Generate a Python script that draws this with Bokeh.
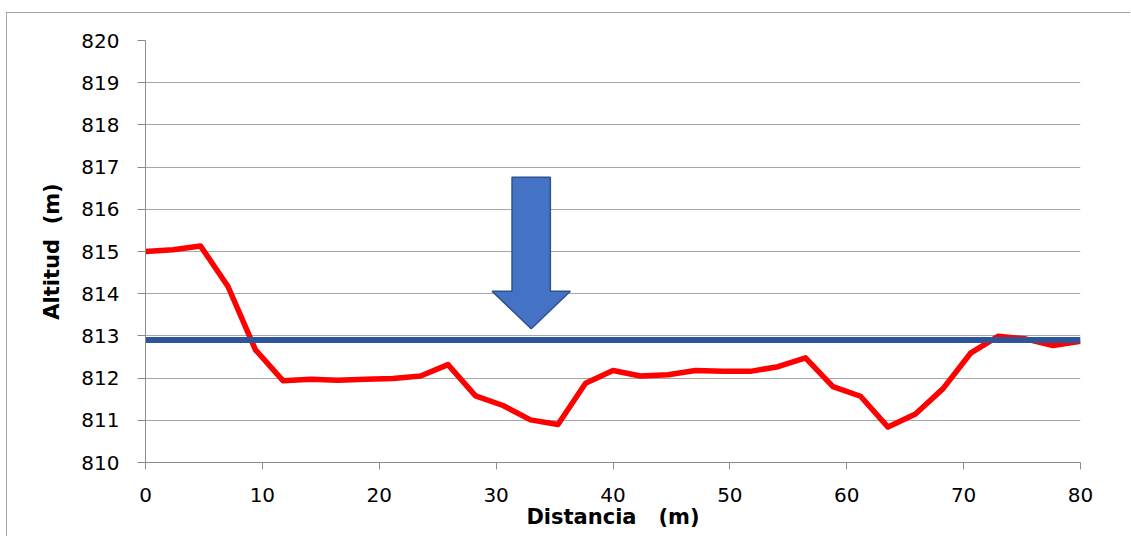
from bokeh.plotting import figure
from bokeh.models import Range1d, FixedTicker
from bokeh.embed import file_html
from bokeh.resources import INLINE

# --- data ---
distancia = [0.0, 2.35, 4.71, 7.06, 9.41, 11.76, 14.12, 16.47, 18.82, 21.18,
             23.53, 25.88, 28.24, 30.59, 32.94, 35.29, 37.65, 40.0, 42.35, 44.71,
             47.06, 49.41, 51.76, 54.12, 56.47, 58.82, 61.18, 63.53, 65.88, 68.24,
             70.59, 72.94, 75.29, 77.65, 80.0]
altitud = [815.00, 815.04, 815.13, 814.17, 812.67, 811.94, 811.97, 811.95, 811.97, 811.99,
           812.05, 812.32, 811.58, 811.35, 811.01, 810.90, 811.88, 812.18, 812.05, 812.08,
           812.18, 812.16, 812.16, 812.27, 812.48, 811.80, 811.57, 810.84, 811.15, 811.75,
           812.59, 812.99, 812.93, 812.77, 812.87]
nivel_x = [0, 80]
nivel_y = [812.9, 812.9]
y_ticks = [810, 811, 812, 813, 814, 815, 816, 817, 818, 819, 820]
x_ticks = [0, 10, 20, 30, 40, 50, 60, 70, 80]

# arrow annotation (data coords)
arrow_x = 33.0
arrow_top = 816.76
arrow_head_base = 814.06
arrow_tip = 813.17
arrow_shaft_half = 1.64
arrow_head_half = 3.35

FONT = "DejaVu Sans"

p = figure(width=1124, height=524, output_backend="svg", toolbar_location=None,
           x_range=Range1d(0, 80), y_range=Range1d(810, 820),
           min_border_left=138, min_border_top=27, min_border_right=51, min_border_bottom=75,
           background_fill_color="white", border_fill_color="white",
           outline_line_color=None,
           styles={"position": "absolute", "left": "6px", "top": "12px",
                   "border-top": "1px solid #a6a6a6", "border-left": "1px solid #a6a6a6"})

p.xgrid.grid_line_color = None
p.ygrid.grid_line_color = "#a6a6a6"
p.ygrid.grid_line_width = 1
p.ygrid.ticker = FixedTicker(ticks=y_ticks)

p.yaxis.ticker = FixedTicker(ticks=y_ticks)
p.xaxis.ticker = FixedTicker(ticks=x_ticks)
for ax in (p.xaxis, p.yaxis):
    ax.axis_line_color = "#8c8c8c"
    ax.major_tick_line_color = "#8c8c8c"
    ax.minor_tick_line_color = None
    ax.major_tick_in = 0
    ax.major_label_text_font = FONT
    ax.major_label_text_font_size = "20px"
    ax.major_label_text_color = "#000000"
    ax.axis_label_text_font = FONT
    ax.axis_label_text_font_size = "21px"
    ax.axis_label_text_font_style = "bold"
    ax.axis_label_text_color = "#000000"

p.yaxis.major_tick_out = 8
p.yaxis.major_label_standoff = 18
p.yaxis.axis_label = "Altitud\u00a0\u00a0(m)"
p.yaxis.axis_label_standoff = 14

p.xaxis.major_tick_out = 7
p.xaxis.major_label_standoff = 18
p.xaxis.axis_label = "Distancia\u00a0\u00a0\u00a0(m)"
p.xaxis.axis_label_standoff = 0

p.line(distancia, altitud, line_color="#ff0000", line_width=5.5, line_join="round")
p.line(nivel_x, nivel_y, line_color="#2f5597", line_width=6)

ax_pts = [arrow_x - arrow_shaft_half, arrow_x + arrow_shaft_half, arrow_x + arrow_shaft_half,
          arrow_x + arrow_head_half, arrow_x, arrow_x - arrow_head_half, arrow_x - arrow_shaft_half]
ay_pts = [arrow_top, arrow_top, arrow_head_base, arrow_head_base, arrow_tip,
          arrow_head_base, arrow_head_base]
p.patch(ax_pts, ay_pts, fill_color="#4472c4", line_color="#2f528f", line_width=1.5)

open("out.html", "w").write(file_html(p, INLINE))
